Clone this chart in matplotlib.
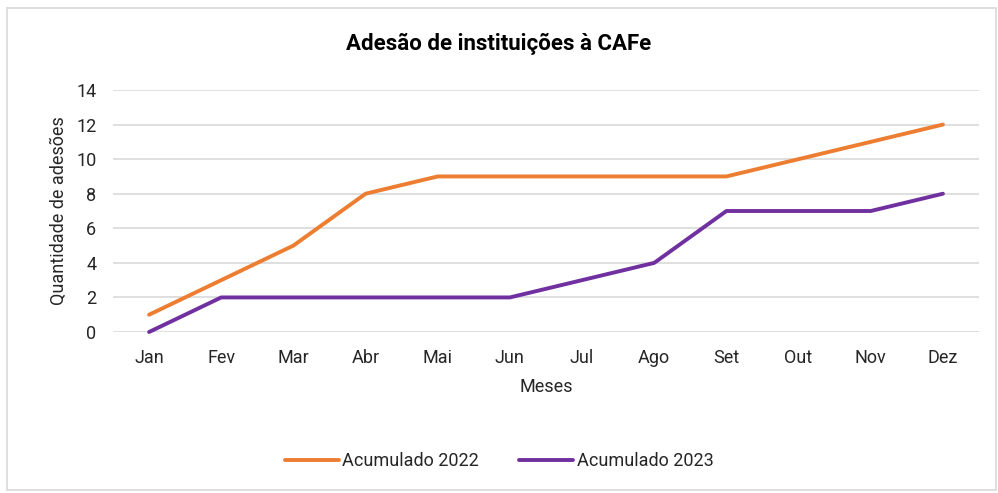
import matplotlib
matplotlib.use("Agg")
import matplotlib.pyplot as plt
from matplotlib.patches import Rectangle

#------------------ data
meses = ["Jan", "Fev", "Mar", "Abr", "Mai", "Jun", "Jul", "Ago", "Set", "Out", "Nov", "Dez"]
acumulado_2022 = [1, 3, 5, 8, 9, 9, 9, 9, 9, 10, 11, 12]
acumulado_2023 = [0, 2, 2, 2, 2, 2, 3, 4, 7, 7, 7, 8]
y_ticks = [0, 2, 4, 6, 8, 10, 12, 14]

plt.rcParams['font.family'] = ['Roboto', 'DejaVu Sans']

fig = plt.figure(figsize=(9.98, 4.93), dpi=100)
ax = fig.add_axes([113 / 998, 1 - 332 / 493, (979 - 113) / 998, (332 - 90) / 493])

# chart border
fig.patches.append(Rectangle((7 / 998, 3 / 493), 989 / 998, 482 / 493, transform=fig.transFigure,
                             fill=False, edgecolor='#d9d9d9', linewidth=1.2))

x = range(len(meses))
ax.plot(x, acumulado_2022, color='#ED7D31', linewidth=2.8, label='Acumulado 2022',
        solid_capstyle='round', clip_on=False)
ax.plot(x, acumulado_2023, color='#7030A0', linewidth=2.8, label='Acumulado 2023',
        solid_capstyle='round', clip_on=False)

ax.set_xlim(-0.5, len(meses) - 0.5)
ax.set_ylim(0, 14)
ax.set_xticks(list(x))
ax.set_xticklabels(meses)
ax.set_yticks(y_ticks)
ax.tick_params(axis='both', length=0, labelsize=13, colors='#262626')
ax.tick_params(axis='x', pad=12)
ax.tick_params(axis='y', pad=12)
ax.grid(axis='y', color='#d9d9d9', linewidth=1.2)
ax.set_axisbelow(True)
for s in ax.spines.values():
    s.set_visible(False)

ax.set_xlabel('Meses', fontsize=13, color='#262626', labelpad=8)
ax.set_ylabel('Quantidade de adesões', fontsize=13, color='#262626', labelpad=6)
fig.text(0.5, 1 - 44 / 493, 'Adesão de instituições à CAFe', ha='center', va='center',
         fontsize=16, fontweight='bold', color='#000000')

fig.legend(loc='center', bbox_to_anchor=(0.5, 1 - 461 / 493), ncol=2, frameon=False,
           fontsize=13, handlelength=3.0, handletextpad=0.2, columnspacing=2.2,
           labelcolor='#262626')

fig.savefig('out.png', dpi=100)
